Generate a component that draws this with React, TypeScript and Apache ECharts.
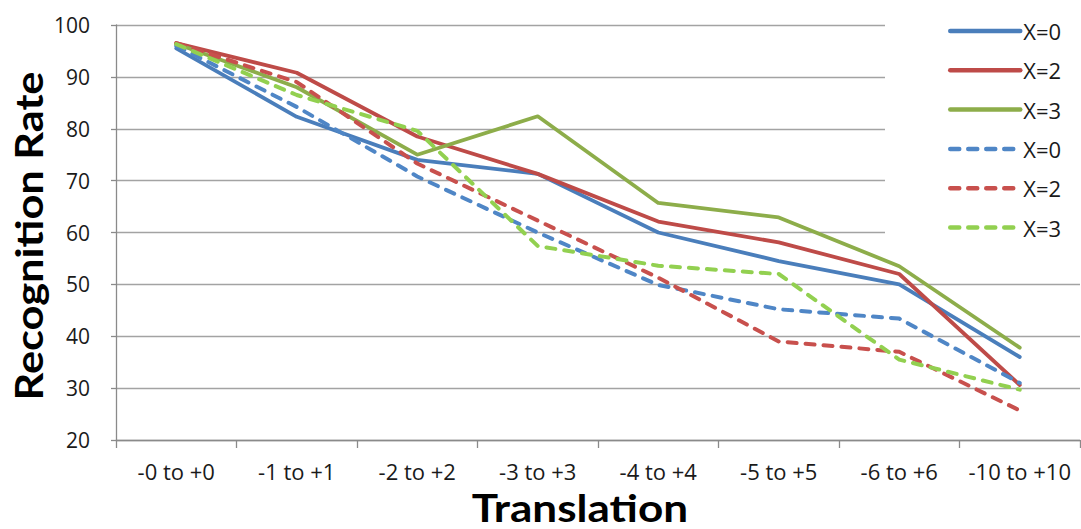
import React, { useEffect, useRef } from "react";
import * as echarts from "echarts";

const categories = ["-0 to +0", "-1 to +1", "-2 to +2", "-3 to +3", "-4 to +4", "-5 to +5", "-6 to +6", "-10 to +10"];
const yTicks = { min: 20, max: 100, interval: 10 };

const solidX0 = [95.5, 82.3, 74.0, 71.3, 60.0, 54.5, 50.0, 36.0];
const solidX2 = [96.5, 90.8, 78.5, 71.3, 62.1, 58.1, 52.0, 30.6];
const solidX3 = [96.4, 88.0, 75.0, 82.4, 65.7, 62.9, 53.5, 37.8];
const dashX0 = [96.0, 84.2, 70.8, 60.0, 49.9, 45.2, 43.4, 31.0];
const dashX2 = [96.5, 89.0, 73.3, 62.3, 51.3, 39.0, 37.0, 25.7];
const dashX3 = [96.3, 86.5, 79.6, 57.4, 53.6, 52.0, 35.5, 29.7];

const seriesDefs = [
  { name: "X=0", data: solidX0, color: "#4A7EBB", dashed: false },
  { name: "X=2", data: solidX2, color: "#BE4B48", dashed: false },
  { name: "X=3", data: solidX3, color: "#8DAD4A", dashed: false },
  { name: "X=0 ", data: dashX0, color: "#4F86C6", dashed: true },
  { name: "X=2 ", data: dashX2, color: "#C8504D", dashed: true },
  { name: "X=3 ", data: dashX3, color: "#92D050", dashed: true },
];

const TICK_FONT = "Open Sans";
const TITLE_FONT = "Lato";

export default function App() {
  const ref = useRef<HTMLDivElement>(null);

  useEffect(() => {
    if (!ref.current) return;
    const chart = echarts.init(ref.current, undefined, { renderer: "svg" });
    chart.setOption({
      animation: false,
      backgroundColor: "#ffffff",
      textStyle: { fontFamily: TICK_FONT },
      grid: { left: 116, right: 1, top: 25, bottom: 89, containLabel: false },
      legend: {
        orient: "vertical",
        left: 885,
        top: 8,
        padding: [12, 20, 12, 63],
        backgroundColor: "#ffffff",
        itemWidth: 70,
        itemHeight: 22,
        itemGap: 17.3,
        itemStyle: { opacity: 0 },
        lineStyle: { width: 4.5, cap: "round" },
        textStyle: { fontFamily: TICK_FONT, fontSize: 22, color: "#1a1a1a", lineHeight: 22, padding: [0, 0, 0, -2] },
        data: seriesDefs.map((s) => s.name),
        formatter: (n: string) => n.trim(),
      },
      xAxis: {
        type: "category",
        data: categories,
        boundaryGap: true,
        axisLine: { lineStyle: { color: "#8a8a8a", width: 1.3 } },
        axisTick: { show: true, length: 8, lineStyle: { color: "#8a8a8a", width: 1.3 } },
        axisLabel: { fontFamily: TICK_FONT, fontSize: 22, color: "#1a1a1a", margin: 20, interval: 0 },
        splitLine: { show: false },
      },
      yAxis: {
        type: "value",
        min: yTicks.min,
        max: yTicks.max,
        interval: yTicks.interval,
        axisLine: { show: true, lineStyle: { color: "#8a8a8a", width: 1.3 } },
        axisTick: { show: true, length: 5, lineStyle: { color: "#8a8a8a", width: 1.3 } },
        axisLabel: { fontFamily: TICK_FONT, fontSize: 21, color: "#1a1a1a", margin: 26 },
        splitLine: { show: true, lineStyle: { color: "#a3a3a3", width: 1.3 } },
      },
      graphic: [
        {
          type: "text",
          x: 29,
          y: 236,
          rotation: Math.PI / 2,
          scaleX: 1.14,
          style: {
            text: "Recognition Rate",
            fontFamily: TITLE_FONT,
            fontWeight: "bold",
            fontSize: 38,
            fill: "#000000",
            align: "center",
            verticalAlign: "middle",
          },
        },
        {
          type: "text",
          x: 580,
          y: 507,
          scaleX: 1.16,
          style: {
            text: "Translation",
            fontFamily: TITLE_FONT,
            fontWeight: "bold",
            fontSize: 38,
            fill: "#000000",
            align: "center",
            verticalAlign: "middle",
          },
        },
      ],
      series: seriesDefs.map((s) => ({
        name: s.name,
        type: "line",
        data: s.data,
        symbol: "none",
        showSymbol: false,
        color: s.color,
        lineStyle: s.dashed
          ? { color: s.color, width: 4, type: [9, 9], cap: "round", join: "round" }
          : { color: s.color, width: 3.8, type: "solid", cap: "round", join: "round" },
      })),
    });
    return () => chart.dispose();
  }, []);

  return <div ref={ref} style={{ width: 1081, height: 529, position: "absolute", left: 0, top: 0 }} />;
}
